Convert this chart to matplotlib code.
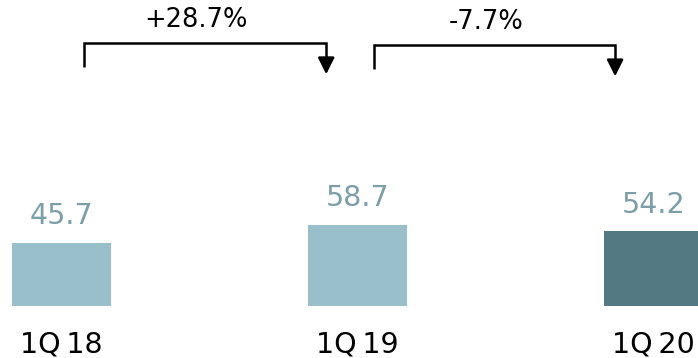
import matplotlib.pyplot as plt
import numpy as np

# quarterly values
quarters = ['1Q\u200918', '1Q\u200919', '1Q\u200920']
values = [45.7, 58.7, 54.2]
changes = ['+28.7%', '-7.7%']

light = '#99bfca'
dark = '#537983'
label_col = '#7b9ea8'

fig = plt.figure(figsize=(6.98, 3.58), dpi=100)
ax = fig.add_axes([0, 52 / 358, 1, 306 / 358])

x = np.arange(len(values))
colors = [light, light, dark]
ax.bar(x, values, width=0.334, color=colors)

ax.set_xlim(-0.208, 2.150)
ax.set_ylim(0, 222.5)
ax.axis('off')

# value labels above bars, quarter labels below
for xi, v, q in zip(x, values, quarters):
    ax.text(xi, v + 19.5, f'{v:.1f}', ha='center', va='center',
            fontsize=20.5, color=label_col)
    ax.text(xi, -28, q, ha='center', va='center', fontsize=20.5,
            color='black', clip_on=False)

# growth brackets between quarters
brackets = [(0.076, 0.894, 191.3, 173.8, 168.5),
            (1.056, 1.870, 189.8, 172.0, 167.0)]
for (l, r, top, leg, tip), txt in zip(brackets, changes):
    ax.plot([l, l, r, r], [leg, top, top, tip + 6], color='black', lw=1.8,
            solid_joinstyle='miter', solid_capstyle='butt')
    ax.annotate('', xy=(r, tip), xytext=(r, tip + 8),
                arrowprops=dict(arrowstyle='-|>,head_length=1.0,head_width=0.5',
                                color='black', lw=1.8, shrinkA=0, shrinkB=0))
    ax.text((l + r) / 2 - 0.03, top + 17, txt, ha='center', va='center',
            fontsize=18.5, color='black')

fig.savefig('out.png', dpi=100)
